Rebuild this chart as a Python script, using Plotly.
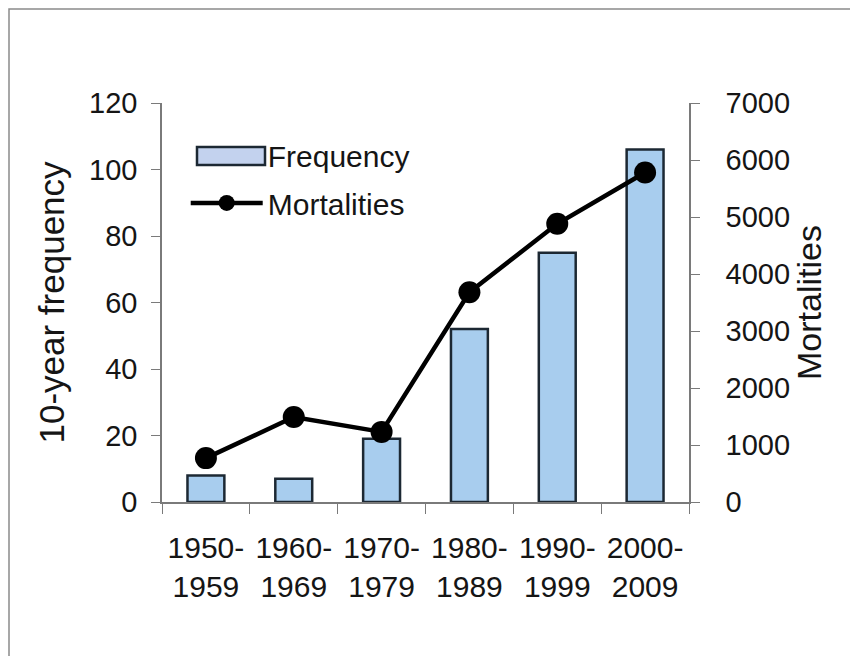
import plotly.graph_objects as go

categories = ["1950-<br>1959", "1960-<br>1969", "1970-<br>1979", "1980-<br>1989", "1990-<br>1999", "2000-<br>2009"]
frequency = [8, 7, 19, 52, 75, 106]
mortalities = [770, 1490, 1230, 3680, 4880, 5780]
left_ticks = [0, 20, 40, 60, 80, 100, 120]
right_ticks = [0, 1000, 2000, 3000, 4000, 5000, 6000, 7000]

FONT = "Liberation Sans, Arial, sans-serif"
AX = "#7a7a7a"
W, H = 858, 656
L, R, T, B = 154, 177, 95, 162
PW, PH = W - L - R, H - T - B


def px(fx):
    return (fx - L) / PW


def py(fy):
    return (T + PH - fy) / PH


fig = go.Figure()
fig.add_trace(go.Bar(
    x=categories, y=frequency, name="Frequency", showlegend=False,
    marker=dict(color="#a8cdee", line=dict(color="#1c2833", width=2.5)),
    width=0.42, yaxis="y",
))
# legend entry for the bars (swatch drawn as a wide box below)
fig.add_trace(go.Scatter(
    x=[None], y=[None], name="Frequency", mode="lines", legendgroup="f",
    line=dict(color="rgba(0,0,0,0)", width=1), hoverinfo="skip",
))
fig.add_trace(go.Scatter(
    x=categories, y=mortalities, name="Mortalities", mode="lines+markers",
    legendgroup="m",
    line=dict(color="black", width=4.5),
    marker=dict(color="black", size=22),
    yaxis="y2",
))

fig.update_layout(
    width=W, height=H,
    margin=dict(l=L, r=R, t=T, b=B),
    paper_bgcolor="white", plot_bgcolor="white",
    font=dict(family=FONT, size=30, color="#151515"),
    showlegend=True,
    legend=dict(x=0.045, y=0.935, xanchor="left", yanchor="top",
                bgcolor="rgba(0,0,0,0)", font=dict(size=30),
                itemwidth=72, traceorder="grouped", tracegroupgap=6),
    xaxis=dict(showline=True, linecolor=AX, linewidth=1.5, ticks="outside",
               tickson="boundaries", ticklen=10, tickcolor=AX,
               range=[-0.5, 5.5], showgrid=False, tickfont=dict(size=30),
               ticklabelstandoff=18),
    yaxis=dict(range=[0, 120], tickvals=left_ticks, showline=True, linecolor=AX,
               linewidth=1.5, ticks="outside", ticklen=9, tickcolor=AX,
               showgrid=False, zeroline=False, tickfont=dict(size=29),
               ticklabelstandoff=8,
               title=dict(text="10-year frequency", font=dict(size=35), standoff=14)),
    yaxis2=dict(range=[0, 7000], tickvals=right_ticks, overlaying="y", side="right",
                showline=True, linecolor=AX, linewidth=1.5, ticks="outside",
                ticklen=9, tickcolor=AX, showgrid=False, zeroline=False,
                tickfont=dict(size=29), ticklabelstandoff=20,
                title=dict(text="Mortalities", font=dict(size=34), standoff=6)),
    shapes=[
        dict(type="rect", xref="paper", yref="paper",
             x0=px(1), x1=px(W + 50), y0=py(H + 50), y1=py(1),
             line=dict(color="#8a8a8a", width=1.5), fillcolor="rgba(0,0,0,0)", layer="below"),
        dict(type="rect", xref="paper", yref="paper",
             x0=px(189), x1=px(257), y0=py(157), y1=py(139),
             line=dict(color="#1c2833", width=2.5), fillcolor="#c3d2ee", layer="above"),
    ],
)

fig.write_html("out.html")
